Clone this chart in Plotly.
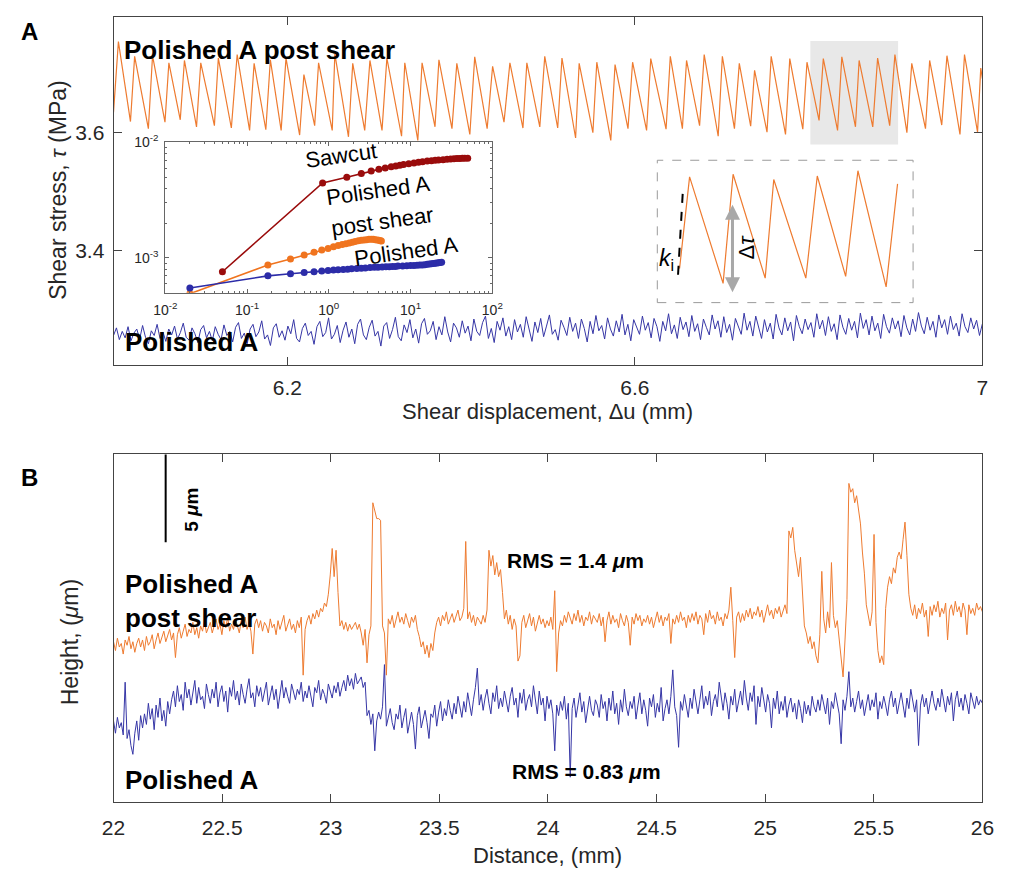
import numpy as np
import plotly.graph_objects as go

W, H = 1011, 873
def px(x):
    return min(1.0, max(0.0, x / W))
def py(y):
    return min(1.0, max(0.0, 1 - y / H))

FONT = "Liberation Sans, Arial, sans-serif"
ORANGE = "#EE7B30"
BLUE = "#3636A6"
AXC = "#444444"
TXT = "#262626"

# ---------------- Panel A : stick-slip shear stress ----------------
disp_post = [6.0000, 6.0056, 6.0195, 6.0243, 6.0401, 6.0449, 6.0592, 6.0637, 6.0768, 6.0816,
             6.0955, 6.1004, 6.1161, 6.1206, 6.1356, 6.1423, 6.1566, 6.1618, 6.1753, 6.1805,
             6.1929, 6.1985, 6.2142, 6.2191, 6.2315, 6.2360, 6.2517, 6.2547, 6.2704, 6.2753,
             6.2891, 6.2951, 6.3090, 6.3146, 6.3315, 6.3352, 6.3502, 6.3551, 6.3700, 6.3745,
             6.3895, 6.3951, 6.4101, 6.4157, 6.4300, 6.4363, 6.4494, 6.4562, 6.4712, 6.4757,
             6.4906, 6.4963, 6.5112, 6.5161, 6.5318, 6.5359, 6.5517, 6.5562, 6.5723, 6.5772,
             6.5921, 6.5974, 6.6135, 6.6183, 6.6359, 6.6408, 6.6547, 6.6595, 6.6745, 6.6798,
             6.6959, 6.7007, 6.7146, 6.7202, 6.7333, 6.7378, 6.7521, 6.7569, 6.7734, 6.7783,
             6.7933, 6.7981, 6.8120, 6.8169, 6.8333, 6.8382, 6.8539, 6.8581, 6.8738, 6.8794,
             6.8933, 6.8993, 6.9131, 6.9187, 6.9345, 6.9393, 6.9532, 6.9592, 6.9742, 6.9794,
             6.9944, 6.9981, 7.0000]
tau_post = [3.635, 3.755, 3.619, 3.730, 3.607, 3.731, 3.618, 3.719, 3.622, 3.723,
            3.610, 3.719, 3.612, 3.727, 3.608, 3.733, 3.604, 3.718, 3.605, 3.724,
            3.604, 3.727, 3.596, 3.699, 3.612, 3.719, 3.604, 3.734, 3.593, 3.718,
            3.604, 3.723, 3.604, 3.727, 3.594, 3.719, 3.587, 3.719, 3.610, 3.724,
            3.607, 3.718, 3.597, 3.729, 3.607, 3.713, 3.618, 3.719, 3.608, 3.719,
            3.610, 3.730, 3.608, 3.727, 3.591, 3.718, 3.600, 3.720, 3.587, 3.716,
            3.607, 3.720, 3.604, 3.726, 3.606, 3.730, 3.607, 3.723, 3.612, 3.733,
            3.594, 3.730, 3.607, 3.718, 3.611, 3.706, 3.601, 3.730, 3.597, 3.726,
            3.606, 3.720, 3.621, 3.726, 3.604, 3.729, 3.610, 3.723, 3.610, 3.727,
            3.612, 3.733, 3.600, 3.718, 3.607, 3.723, 3.613, 3.731, 3.597, 3.733,
            3.601, 3.710, 3.692]

tau_polished = [
    3.255, 3.268, 3.248, 3.262, 3.251, 3.270, 3.246, 3.259, 3.266, 3.249, 3.272, 3.252, 3.241, 3.263, 3.255, 3.274, 3.250, 3.261, 3.245, 3.266,
    3.256, 3.271, 3.249, 3.260, 3.276, 3.252, 3.247, 3.268, 3.258, 3.243, 3.265, 3.272, 3.251, 3.262, 3.246, 3.270, 3.257, 3.248, 3.273, 3.255,
    3.262, 3.244, 3.269, 3.277, 3.250, 3.259, 3.241, 3.266, 3.274, 3.253, 3.261, 3.280, 3.249, 3.256, 3.238, 3.268, 3.275, 3.252, 3.263, 3.247,
    3.271, 3.258, 3.282, 3.250, 3.244, 3.267, 3.276, 3.255, 3.262, 3.240, 3.270, 3.279, 3.253, 3.260, 3.285, 3.249, 3.257, 3.272, 3.243, 3.264,
    3.278, 3.252, 3.266, 3.241, 3.274, 3.283, 3.256, 3.248, 3.269, 3.281, 3.254, 3.262, 3.237, 3.271, 3.277, 3.250, 3.265, 3.286, 3.253, 3.246,
    3.273, 3.260, 3.282, 3.251, 3.266, 3.242, 3.275, 3.284, 3.257, 3.263, 3.279, 3.248, 3.270, 3.256, 3.287, 3.261, 3.244, 3.276, 3.268, 3.252,
    3.280, 3.259, 3.271, 3.246, 3.283, 3.262, 3.255, 3.277, 3.288, 3.250, 3.267, 3.243, 3.279, 3.264, 3.285, 3.254, 3.270, 3.248, 3.282, 3.261,
    3.274, 3.252, 3.287, 3.266, 3.245, 3.278, 3.260, 3.284, 3.253, 3.271, 3.290, 3.257, 3.265, 3.247, 3.281, 3.269, 3.255, 3.286, 3.262, 3.276,
    3.250, 3.283, 3.267, 3.244, 3.279, 3.258, 3.289, 3.263, 3.272, 3.249, 3.285, 3.266, 3.254, 3.280, 3.261, 3.291, 3.256, 3.274, 3.246, 3.282,
    3.268, 3.257, 3.288, 3.264, 3.277, 3.251, 3.284, 3.270, 3.245, 3.279, 3.263, 3.292, 3.258, 3.273, 3.250, 3.286, 3.265, 3.278, 3.253, 3.289,
    3.262, 3.275, 3.248, 3.283, 3.269, 3.256, 3.290, 3.266, 3.280, 3.252, 3.287, 3.260, 3.274, 3.247, 3.284, 3.271, 3.257, 3.293, 3.264, 3.279,
    3.254, 3.288, 3.267, 3.250, 3.282, 3.261, 3.276, 3.249, 3.291, 3.268, 3.256, 3.285, 3.263, 3.278, 3.246, 3.289, 3.270, 3.258, 3.283, 3.265,
    3.277, 3.252, 3.292, 3.266, 3.281, 3.255, 3.287, 3.262, 3.275, 3.248, 3.290, 3.269, 3.257, 3.284, 3.264, 3.279, 3.251, 3.293, 3.267, 3.282,
    3.256, 3.288, 3.263, 3.276, 3.250, 3.291, 3.270, 3.259, 3.285, 3.266, 3.280, 3.253, 3.289, 3.268, 3.256, 3.283, 3.262, 3.294, 3.271, 3.258,
    3.286, 3.264, 3.279, 3.252, 3.290, 3.268, 3.282, 3.257, 3.288, 3.265, 3.276, 3.254, 3.292, 3.270, 3.260, 3.285, 3.266, 3.281, 3.255, 3.275,
]
disp_polished = np.linspace(6.0, 7.0, len(tau_polished))   # uniform sampling grid

# shaded window in panel A and zoom-in window shown in the inset
shade_disp = [6.802, 6.903]
shade_tau = [3.580, 3.756]
zoom_disp = [6.8115, 6.9195]

# ---------------- inset : stiffness vs displacement (log-log) ----------------
saw_x = [0.05, 0.84, 1.66, 2.5, 3.3, 4.1, 4.9, 5.8, 6.6, 7.4, 8.2, 9.5, 11, 12.5, 14, 16, 18, 20,
         22, 25, 28, 31, 34, 37, 40, 43, 46, 50]
saw_y = [7.6e-4, 4.46e-3, 5.0e-3, 5.4e-3, 5.65e-3, 5.85e-3, 6.0e-3, 6.15e-3, 6.25e-3, 6.35e-3,
         6.45e-3, 6.55e-3, 6.65e-3, 6.75e-3, 6.8e-3, 6.9e-3, 6.95e-3, 7.0e-3, 7.05e-3, 7.1e-3,
         7.15e-3, 7.2e-3, 7.22e-3, 7.25e-3, 7.28e-3, 7.3e-3, 7.3e-3, 7.3e-3]
post_x = [0.02, 0.18, 0.34, 0.50, 0.66, 0.82, 0.98, 1.14, 1.30, 1.46, 1.62, 1.78, 1.94, 2.1,
          2.3, 2.5, 2.7, 2.9, 3.1, 3.3, 3.5, 3.7, 3.9, 4.1, 4.3, 4.4]
post_y = [4.9e-4, 8.7e-4, 9.8e-4, 1.06e-3, 1.12e-3, 1.17e-3, 1.21e-3, 1.25e-3, 1.28e-3, 1.31e-3,
          1.33e-3, 1.35e-3, 1.37e-3, 1.39e-3, 1.41e-3, 1.42e-3, 1.43e-3, 1.44e-3, 1.45e-3, 1.45e-3,
          1.45e-3, 1.44e-3, 1.43e-3, 1.42e-3, 1.41e-3, 1.40e-3]
pol_x = [0.02, 0.18, 0.34, 0.5, 0.66, 0.82, 0.98, 1.14, 1.3, 1.5, 1.7, 1.9, 2.2, 2.5, 2.8, 3.2,
         3.6, 4.0, 4.5, 5, 5.5, 6, 6.5, 7, 8, 9, 10, 11, 12, 13, 14, 15, 16, 17, 18, 19, 20, 21,
         22, 23, 24]
pol_y = [5.5e-4, 7.0e-4, 7.3e-4, 7.5e-4, 7.6e-4, 7.7e-4, 7.8e-4, 7.85e-4, 7.9e-4, 7.95e-4,
         8.0e-4, 8.05e-4, 8.1e-4, 8.15e-4, 8.2e-4, 8.25e-4, 8.3e-4, 8.3e-4, 8.35e-4, 8.4e-4,
         8.4e-4, 8.45e-4, 8.45e-4, 8.5e-4, 8.5e-4, 8.55e-4, 8.6e-4, 8.6e-4, 8.65e-4, 8.7e-4,
         8.7e-4, 8.75e-4, 8.8e-4, 8.85e-4, 8.9e-4, 8.95e-4, 9.0e-4, 9.05e-4, 9.1e-4, 9.15e-4,
         9.2e-4]

# ---------------- Panel B : surface profiles ----------------
h_post = [
    9.1, 8.6, 9.3, 8.8, 9.0, 8.4, 9.2, 8.9, 9.4, 8.7, 9.1, 8.5, 9.0, 9.3, 8.8, 9.2, 8.6, 9.4, 8.9, 9.1, 9.5, 8.7, 9.2, 9.6, 9.0,
    9.4, 9.7, 9.1, 9.5, 9.8, 9.2, 9.6, 8.2, 9.5, 9.9, 9.3, 9.7, 10.1, 9.4, 9.8, 9.6, 10.2, 9.5, 9.9, 9.3, 10.0, 9.7, 10.3, 9.6, 9.9,
    10.2, 9.6, 10.0, 10.4, 9.8, 10.1, 9.5, 10.3, 9.9, 10.5, 9.7, 10.1, 9.8, 10.4, 10.0, 9.6, 10.3, 9.9, 10.5, 9.8, 10.2, 9.7, 8.4, 10.1, 10.4,
    9.9, 10.3, 9.7, 10.2, 10.0, 9.6, 10.4, 9.9, 10.1, 9.5, 10.3, 9.8, 10.2, 10.6, 9.7, 10.0, 10.4, 9.8, 10.1, 9.6, 10.3, 9.9, 10.5, 7.2, 9.8,
    10.3, 10.6, 10.1, 10.7, 10.4, 10.9, 10.5, 11.0, 10.8, 11.3, 11.1, 11.8, 12.9, 14.4, 12.8, 14.3, 11.9, 10.0, 10.3, 9.8, 10.2, 9.7, 10.1, 9.8, 10.0,
    10.2, 9.8, 10.1, 9.6, 8.9, 9.8, 7.9, 9.5, 10.0, 17.0, 16.6, 16.1, 16.1, 16.0, 10.0, 9.6, 7.2, 10.4, 10.1, 10.6, 9.9, 10.4, 10.8, 10.2, 10.5,
    10.1, 10.7, 10.3, 9.9, 10.5, 10.2, 10.6, 9.8, 9.4, 8.8, 9.1, 8.4, 8.9, 8.2, 9.0, 8.6, 9.6, 10.2, 10.5, 10.0, 10.6, 10.3, 10.8, 10.1, 10.4,
    10.7, 10.2, 10.6, 10.9, 10.3, 10.5, 11.0, 14.8, 10.4, 10.8, 10.2, 10.6, 10.0, 10.5, 10.3, 10.1, 10.6, 10.2, 10.9, 14.3, 13.4, 14.0, 12.9, 13.6, 12.8,
    13.2, 11.9, 10.4, 10.9, 10.1, 10.6, 9.8, 10.4, 10.0, 8.0, 8.3, 10.2, 10.6, 9.9, 10.3, 10.7, 10.0, 10.5, 9.7, 10.2, 10.6, 10.1, 10.4, 9.9, 10.3,
    10.0, 10.5, 9.8, 12.0, 7.4, 9.6, 10.3, 10.0, 10.6, 10.2, 10.8, 10.4, 10.1, 10.7, 10.3, 10.9, 10.2, 10.6, 10.0, 10.5, 10.3, 10.8, 10.1, 10.6, 10.4,
    10.2, 10.7, 10.0, 10.5, 9.1, 10.3, 10.8, 10.1, 10.6, 10.2, 10.4, 9.9, 10.7, 10.3, 10.0, 10.6, 10.2, 8.9, 10.5, 10.1, 10.7, 10.3, 10.6, 10.0, 10.4,
    10.2, 10.6, 10.1, 10.5, 9.9, 10.4, 10.8, 10.2, 10.6, 10.0, 10.5, 10.3, 10.7, 9.0, 10.4, 10.1, 10.6, 10.2, 10.8, 10.3, 10.5, 9.9, 10.6, 10.2, 10.7,
    10.3, 10.8, 10.1, 10.6, 10.4, 9.5, 10.7, 10.2, 10.9, 10.4, 10.6, 10.1, 10.8, 10.3, 10.5, 10.0, 10.7, 10.4, 10.9, 12.2, 10.3, 8.2, 10.5, 10.8, 10.2,
    10.7, 10.3, 10.9, 10.5, 11.0, 10.4, 10.8, 10.6, 11.1, 10.5, 10.9, 10.2, 10.8, 11.2, 10.6, 10.9, 10.4, 11.0, 10.7, 11.1, 10.5, 10.9, 11.2, 10.7, 15.4,
    15.0, 15.6, 14.3, 13.6, 12.8, 13.9, 11.5, 10.0, 9.6, 9.0, 9.4, 8.7, 9.1, 8.3, 7.9, 9.5, 13.1, 10.4, 9.6, 10.8, 9.9, 13.6, 10.6, 9.9, 10.3,
    9.2, 8.4, 7.1, 9.2, 11.5, 18.1, 17.6, 17.8, 17.0, 17.4, 16.7, 15.8, 14.2, 13.0, 11.2, 10.6, 10.0, 10.8, 15.2, 10.2, 8.6, 7.9, 8.3, 7.8, 11.0,
    12.2, 12.8, 12.4, 13.3, 13.0, 13.9, 14.2, 13.8, 14.9, 15.9, 14.0, 11.8, 11.0, 10.6, 11.2, 10.4, 11.0, 10.7, 11.3, 10.5, 10.9, 9.4, 11.1, 10.6, 11.2,
    10.8, 11.4, 10.5, 11.0, 10.7, 11.3, 9.2, 10.9, 11.2, 10.6, 11.4, 10.8, 11.1, 10.5, 11.3, 10.9, 9.5, 11.2, 10.7, 11.0, 10.6, 11.3, 10.9, 11.1, 10.8,
]
h_pol = [
    4.6, 3.9, 4.8, 4.2, 4.5, 3.8, 6.8, 3.6, 4.1, 3.2, 2.7, 3.9, 4.6, 3.5, 4.9, 4.2, 5.0, 4.4, 5.6, 4.7, 5.3, 4.1, 5.5, 4.8, 5.9,
    4.6, 5.2, 4.3, 5.7, 5.0, 5.8, 6.3, 5.4, 6.6, 5.7, 6.1, 5.2, 6.8, 5.9, 6.4, 5.5, 6.2, 6.9, 5.6, 6.5, 5.8, 6.0, 5.3, 6.7, 6.1,
    5.6, 6.4, 5.9, 6.8, 5.4, 6.2, 6.6, 5.7, 6.3, 5.1, 6.5, 6.0, 6.9, 5.8, 6.3, 5.5, 6.7, 6.1, 5.6, 6.4, 7.0, 5.9, 6.2, 5.4, 6.6,
    6.0, 6.5, 5.7, 6.3, 6.8, 5.5, 6.1, 6.6, 5.8, 6.4, 5.3, 6.2, 6.9, 5.9, 6.5, 6.0, 5.6, 6.7, 6.2, 5.8, 6.4, 6.1, 6.8, 5.7, 6.3,
    5.9, 6.6, 6.0, 5.4, 6.5, 6.2, 6.9, 5.8, 6.4, 6.1, 5.6, 6.7, 6.3, 5.9, 6.6, 6.2, 6.8, 6.0, 6.5, 6.9, 6.3, 7.2, 6.6, 7.0, 6.4,
    7.3, 6.7, 6.9, 7.1, 6.5, 6.8, 4.9, 5.2, 4.4, 5.0, 2.9, 4.6, 5.1, 4.7, 5.4, 7.8, 4.3, 4.9, 5.3, 4.5, 4.1, 5.0, 4.7, 5.5, 4.2,
    4.8, 5.3, 3.9, 4.6, 5.1, 4.4, 3.0, 4.9, 5.4, 4.2, 4.7, 5.2, 4.5, 3.6, 5.0, 4.8, 5.5, 4.3, 5.1, 5.7, 4.6, 5.3, 4.9, 5.8, 5.2,
    4.7, 5.6, 5.0, 6.0, 5.3, 4.8, 5.7, 5.1, 6.2, 5.4, 4.9, 5.8, 6.5, 7.6, 5.5, 6.1, 5.2, 5.9, 6.4, 5.6, 5.0, 6.2, 5.7, 6.6, 5.3,
    5.9, 5.4, 6.3, 5.8, 5.1, 6.0, 6.5, 5.5, 5.9, 4.8, 6.2, 5.6, 6.4, 5.2, 5.8, 6.1, 5.4, 6.6, 5.7, 5.0, 6.3, 5.5, 5.9, 4.6, 6.0,
    5.3, 5.8, 5.0, 2.9, 5.5, 4.9, 5.7, 5.2, 6.0, 4.7, 5.6, 1.4, 5.3, 5.9, 4.8, 5.5, 6.2, 5.1, 5.7, 4.5, 5.4, 6.0, 5.2, 4.9, 5.8,
    5.5, 4.8, 6.1, 5.3, 5.7, 4.6, 5.9, 5.2, 6.3, 5.0, 5.6, 4.4, 5.8, 5.1, 6.4, 5.4, 4.9, 5.7, 5.3, 6.0, 4.7, 5.5, 6.2, 5.0, 5.8,
    5.2, 4.3, 5.9, 5.4, 6.1, 4.8, 5.6, 5.1, 6.5, 4.6, 5.3, 5.8, 5.0, 6.0, 7.5, 5.4, 4.9, 3.1, 5.7, 5.2, 6.1, 5.5, 4.8, 5.9, 5.3,
    6.4, 5.6, 5.0, 5.8, 6.6, 5.3, 6.0, 5.5, 6.3, 4.9, 5.7, 6.1, 5.4, 6.8, 5.9, 5.2, 6.2, 5.6, 4.7, 6.0, 5.5, 6.4, 5.1, 5.8, 6.3,
    5.5, 6.9, 5.9, 5.2, 6.2, 5.7, 6.6, 4.4, 6.0, 5.4, 6.5, 5.8, 5.1, 6.1, 5.6, 4.2, 5.9, 5.3, 6.3, 5.0, 5.7, 5.2, 6.0, 4.8, 5.5,
    5.9, 5.1, 5.6, 4.7, 5.8, 5.3, 4.5, 5.7, 5.0, 5.5, 4.9, 6.0, 5.4, 5.1, 5.8, 5.2, 6.1, 5.6, 5.0, 5.9, 4.4, 5.7, 5.3, 6.2, 5.5,
    5.0, 3.3, 5.8, 5.2, 6.0, 7.4, 5.4, 5.9, 5.1, 5.7, 6.3, 5.3, 5.8, 4.9, 5.6, 6.1, 5.2, 5.8, 5.4, 6.2, 4.7, 5.7, 5.3, 6.0, 5.5,
    4.9, 5.8, 6.3, 5.4, 5.9, 5.0, 5.7, 6.2, 5.5, 4.8, 5.9, 5.3, 6.4, 5.6, 5.1, 5.8, 3.2, 5.5, 6.1, 5.4, 5.9, 5.0, 5.7, 6.3, 5.6,
    5.2, 5.9, 5.4, 6.4, 5.7, 5.1, 6.0, 5.5, 6.2, 4.6, 5.8, 6.3, 5.4, 5.9, 5.2, 6.1, 5.6, 5.0, 6.2, 5.7, 5.3, 6.0, 5.5, 5.8, 5.6,
]
dist_post = np.linspace(22.0, 26.0, len(h_post))   # uniform sampling grid
dist_pol = np.linspace(22.0, 26.0, len(h_pol))
scale_bar_um = 5.0

# ---------------- figure ----------------
fig = go.Figure()

fig.add_trace(go.Scatter(x=disp_post, y=tau_post, mode="lines",
                         line=dict(color=ORANGE, width=1.2), xaxis="x", yaxis="y"))
fig.add_trace(go.Scatter(x=disp_polished, y=tau_polished, mode="lines",
                         line=dict(color=BLUE, width=1), xaxis="x", yaxis="y"))

fig.add_trace(go.Scatter(x=dist_post, y=h_post, mode="lines",
                         line=dict(color=ORANGE, width=1), xaxis="x2", yaxis="y2"))
fig.add_trace(go.Scatter(x=dist_pol, y=h_pol, mode="lines",
                         line=dict(color=BLUE, width=1), xaxis="x2", yaxis="y2"))

for xs, ys, col in [(saw_x, saw_y, "#9A0C0C"), (post_x, post_y, "#F0741F"), (pol_x, pol_y, "#2C2CA8")]:
    fig.add_trace(go.Scatter(x=xs, y=ys, mode="lines+markers",
                             line=dict(color=col, width=1.6),
                             marker=dict(color=col, size=7),
                             xaxis="x3", yaxis="y3"))

zx = [d for d in disp_post if zoom_disp[0] <= d <= zoom_disp[1]]
zy = [t for d, t in zip(disp_post, tau_post) if zoom_disp[0] <= d <= zoom_disp[1]]
fig.add_trace(go.Scatter(x=zx, y=zy, mode="lines", line=dict(color=ORANGE, width=1.2),
                         xaxis="x4", yaxis="y4"))

tick_font = dict(family=FONT, size=21, color=TXT)
common = dict(showline=True, linecolor=AXC, linewidth=1, ticks="inside", tickcolor=AXC,
              showgrid=False, zeroline=False, tickfont=tick_font)

xdomA = [px(104), px(994)]
minor_log_x = [m * 10.0 ** k for k in range(-2, 2) for m in range(2, 10)]
minor_log_y = [m * 10.0 ** k for k in range(-4, -2) for m in range(2, 10)]

fig.update_layout(
    width=W, height=H, margin=dict(l=0, r=0, t=0, b=0), autosize=False,
    paper_bgcolor="white", plot_bgcolor="rgba(0,0,0,0)", showlegend=False,
    font=dict(family=FONT, color=TXT),
    xaxis=dict(**common, domain=xdomA, range=[6.0, 7.0], tickvals=[6.2, 6.6, 7.0],
               ticktext=["6.2", "6.6", "7"], ticklen=8, mirror="ticks", anchor="y",
               ticklabelstandoff=4),
    yaxis=dict(**common, domain=[py(359), py(7)], range=[3.205, 3.797], tickvals=[3.4, 3.6],
               ticktext=["3.4", "3.6"], ticklen=8, mirror="ticks", anchor="x",
               ticklabelstandoff=4),
    xaxis2=dict(**common, domain=xdomA, range=[22, 26],
                tickvals=[22, 22.5, 23, 23.5, 24, 24.5, 25, 25.5, 26],
                ticktext=["22", "22.5", "23", "23.5", "24", "24.5", "25", "25.5", "26"],
                ticklen=8, mirror="ticks", anchor="y2", ticklabelstandoff=7),
    yaxis2=dict(showline=True, linecolor=AXC, linewidth=1, mirror=True, showgrid=False,
                zeroline=False, showticklabels=False, ticks="", domain=[py(801), py(449)],
                range=[0, 19.78], anchor="x2"),
    xaxis3=dict(type="log", showline=True, linecolor="#666", linewidth=1, mirror="ticks",
                ticks="inside", ticklen=4, tickcolor="#666", showgrid=False, zeroline=False,
                domain=[px(157), px(492)], range=[-2, 2], anchor="y3",
                tickvals=[0.01, 0.1, 1, 10, 100],
                ticktext=["10<sup>-2</sup>", "10<sup>-1</sup>", "10<sup>0</sup>",
                          "10<sup>1</sup>", "10<sup>2</sup>"],
                tickfont=dict(family=FONT, size=14, color=TXT), ticklabelstandoff=4,
                minor=dict(tickvals=minor_log_x, ticks="inside", ticklen=2, tickcolor="#666")),
    yaxis3=dict(type="log", showline=True, linecolor="#666", linewidth=1, mirror="ticks",
                ticks="inside", ticklen=4, tickcolor="#666", showgrid=False, zeroline=False,
                domain=[py(286), py(134)], range=[np.log10(5.0e-4), -2], anchor="x3",
                tickvals=[1e-3, 1e-2], ticktext=["10<sup>-3</sup>", "10<sup>-2</sup>"],
                tickfont=dict(family=FONT, size=14, color=TXT), ticklabelstandoff=3,
                minor=dict(tickvals=minor_log_y, ticks="inside", ticklen=2, tickcolor="#666")),
    xaxis4=dict(visible=False, domain=[px(661), px(923)], range=[6.8011, 6.9263], anchor="y4"),
    yaxis4=dict(visible=False, domain=[py(296), py(152)], range=[3.582, 3.745], anchor="x4"),
)

shapes = [
    dict(type="rect", xref="x", yref="y", x0=shade_disp[0], x1=shade_disp[1],
         y0=shade_tau[0], y1=shade_tau[1], fillcolor="#E8E8E8", line=dict(width=0), layer="below"),
    dict(type="rect", xref="paper", yref="paper", x0=px(661), x1=px(923), y0=py(296), y1=py(152),
         line=dict(color="#9A9A9A", width=1, dash="dash"), fillcolor="rgba(0,0,0,0)"),
    dict(type="line", xref="paper", yref="paper", x0=px(687), x1=px(682), y0=py(186), y1=py(272),
         line=dict(color="black", width=2, dash="dash")),
    dict(type="line", xref="x2", yref="y2", x0=22.24, x1=22.24, y0=19.75 - scale_bar_um, y1=19.75,
         line=dict(color="black", width=2)),
]
fig.update_layout(shapes=shapes)

def ann(text, x, y, size=21, bold=False, angle=0, xanchor="center", color="black", align="center"):
    t = f"<b>{text}</b>" if bold else text
    return dict(text=t, x=px(x), y=py(y), xref="paper", yref="paper", showarrow=False,
                xanchor=xanchor, yanchor="middle", textangle=angle, align=align,
                font=dict(family=FONT, size=size, color=color))

anns = [
    ann("A", 18, 22, size=24, bold=True),
    ann("B", 18, 473, size=24, bold=True),
    ann("Polished A post shear", 113, 40, size=26, bold=True, xanchor="left"),
    ann("Polished A", 114, 336, size=26, bold=True, xanchor="left"),
    ann("Shear stress, <i>τ</i> (MPa)", 47, 182, size=23, angle=-90, color=TXT),
    ann("Shear displacement, Δu (mm)", 549, 406, size=22, color=TXT),
    ann("Sawcut", 337, 147, size=22, angle=-8),
    ann("Polished A", 375, 183, size=22, angle=-8),
    ann("post shear", 379, 214, size=22, angle=-8),
    ann("Polished A", 404, 244, size=22, angle=-8),
    ann("<i>k</i><sub>i</sub>", 670, 252, size=23),
    ann("Δ<i>τ</i>", 752, 240, size=22, angle=-90),
    ann("5 <i>μ</i>m", 184, 506, size=19, bold=True, angle=-90),
    ann("Polished A<br>post shear", 114, 598, size=26, bold=True, xanchor="left", align="left"),
    ann("RMS = 1.4 <i>μ</i>m", 577, 557, size=21, bold=True),
    ann("Polished A", 114, 779, size=26, bold=True, xanchor="left"),
    ann("RMS = 0.83 <i>μ</i>m", 588, 770, size=21, bold=True),
    ann("Height, (<i>μ</i>m)", 59, 640, size=23, angle=-90, color=TXT),
    ann("Distance, (mm)", 549, 855, size=22, color=TXT),
]
anns.append(dict(x=px(738), y=py(197), xref="paper", yref="paper", ax=0, ay=89,
                 axref="pixel", ayref="pixel", showarrow=True, arrowhead=2, arrowside="end+start",
                 arrowsize=1, arrowwidth=3, arrowcolor="#A8A8A8", text=""))
fig.update_layout(annotations=anns)

fig.write_html("out.html")
